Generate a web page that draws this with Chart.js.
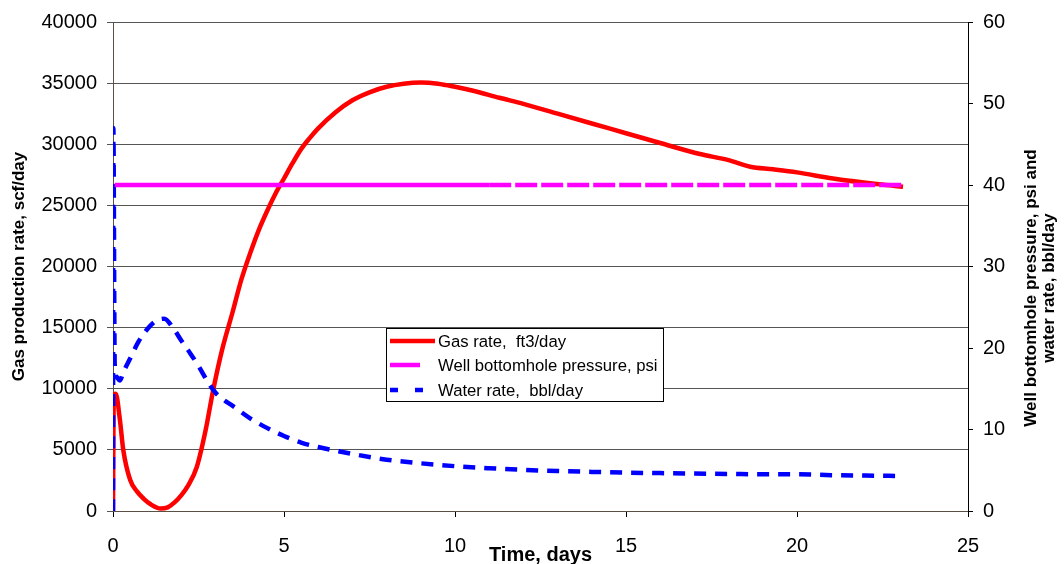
<!DOCTYPE html>
<html>
<head>
<meta charset="utf-8">
<script src="https://cdn.jsdelivr.net/npm/chart.js@4"></script>
<style>
  html, body { margin: 0; padding: 0; background: #ffffff; }
  canvas { display: block; }
</style>
</head>
<body>
<canvas id="c" width="1064" height="564"></canvas>
<script>
// ---- Data ----
const gasTime = [0, 0.02, 0.08, 0.2, 0.3, 0.5, 0.7, 0.9, 1.1, 1.4, 1.6, 1.8, 2.0, 2.2, 2.45, 2.7, 2.93, 3.2, 3.5, 3.75, 4.0, 4.25, 4.5, 4.75, 5.0, 5.25, 5.5, 5.75, 6.0, 6.5, 7.0, 7.5, 8.0, 8.5, 9.0, 9.5, 10, 10.5, 11.3, 12, 13, 14, 15, 16, 17.16, 18, 18.63, 19.3, 20, 21.05, 22.4, 23.1];
const gasRate = [0, 9500, 9600, 7500, 5000, 2550, 1600, 1000, 550, 200, 300, 700, 1300, 2100, 3600, 6500, 9900, 13300, 16300, 18900, 21000, 22900, 24500, 25950, 27200, 28450, 29600, 30500, 31300, 32600, 33600, 34250, 34700, 34950, 35050, 34950, 34700, 34400, 33800, 33300, 32500, 31700, 30900, 30100, 29200, 28700, 28160, 27950, 27700, 27200, 26720, 26530];

const pressureTime = [0.05, 1, 2, 3, 4, 5, 6, 7, 8, 9, 10, 11, 12, 13, 14, 15, 16, 17, 18, 19, 20, 21, 22, 23.1];
const pressure = [40, 40, 40, 40, 40, 40, 40, 40, 40, 40, 40, 40, 40, 40, 40, 40, 40, 40, 40, 40, 40, 40, 40, 40];

const waterTime = [0, 0.01, 0.05, 0.1, 0.2, 0.3, 0.5, 0.75, 1.0, 1.25, 1.5, 1.75, 2.0, 2.25, 2.5, 2.75, 3.0, 3.25, 3.5, 4, 4.5, 5, 5.5, 6, 7, 8, 9, 10, 11, 12, 13, 14, 15, 16, 17, 18, 19, 20, 21, 22, 23];
const waterRate = [0, 47, 18, 16.5, 16, 17, 18.7, 20.8, 22.3, 23.3, 23.6, 22.5, 20.9, 19.4, 17.8, 16.0, 14.5, 13.6, 12.9, 11.4, 10.2, 9.2, 8.4, 7.85, 7.0, 6.3, 5.85, 5.5, 5.25, 5.05, 4.9, 4.8, 4.7, 4.65, 4.6, 4.55, 4.5, 4.5, 4.4, 4.35, 4.3];

const xTicks = [0, 5, 10, 15, 20, 25];
const leftTicks = [0, 5000, 10000, 15000, 20000, 25000, 30000, 35000, 40000];
const rightTicks = [0, 10, 20, 30, 40, 50, 60];

const gasLabel = 'Gas rate,  ft3/day';
const pressureLabel = 'Well bottomhole pressure, psi';
const waterLabel = 'Water rate,  bbl/day';
const xTitle = 'Time, days';
const leftTitle = 'Gas production rate, scf/day';
const rightTitle = ['Well bottomhole pressure, psi and', 'water rate, bbl/day'];

// ---- Build ----
const pts = (xs, ys) => xs.map((x, i) => ({ x: x, y: ys[i] }));
const FONT = "'Liberation Sans', Arial, sans-serif";
const plain = v => String(v);

const legendPlugin = {
  id: 'floatLegend',
  afterDraw(chart) {
    const ctx = chart.ctx;
    ctx.save();
    const bx = 386.5, by = 328.5, bw = 277, bh = 73;
    ctx.fillStyle = '#ffffff';
    ctx.fillRect(bx, by, bw, bh);
    ctx.strokeStyle = '#000000';
    ctx.lineWidth = 1;
    ctx.strokeRect(bx, by, bw, bh);
    const ds = chart.data.datasets;
    const gas = ds[2], pr = ds[0], wa = ds[1];
    const rows = [
      { d: gas, y: 341, x0: 390, x1: 435, dash: [] },
      { d: pr, y: 365, x0: 390, x1: 420, dash: [] },
      { d: wa, y: 390, x0: 390, x1: 424, dash: [8, 17] }
    ];
    rows.forEach(r => {
      ctx.beginPath();
      ctx.setLineDash(r.dash);
      ctx.strokeStyle = r.d.borderColor;
      ctx.lineWidth = r.d.borderWidth;
      ctx.lineCap = 'butt';
      ctx.moveTo(r.x0, r.y);
      ctx.lineTo(r.x1, r.y);
      ctx.stroke();
      ctx.setLineDash([]);
      ctx.fillStyle = '#000000';
      ctx.font = '16.7px ' + FONT;
      ctx.textAlign = 'left';
      ctx.textBaseline = 'middle';
      ctx.fillText(r.d.label, 438, r.y + 1);
    });
    ctx.restore();
  }
};

const rightTitlePlugin = {
  id: 'rightTitle',
  afterDraw(chart) {
    const ctx = chart.ctx;
    ctx.save();
    ctx.translate(1031, 288);
    ctx.rotate(-Math.PI / 2);
    ctx.fillStyle = '#000000';
    ctx.font = 'bold 17px ' + FONT;
    ctx.textAlign = 'center';
    ctx.textBaseline = 'middle';
    ctx.fillText(rightTitle[0], 0, 0);
    ctx.fillText(rightTitle[1], 0, 18);
    ctx.restore();
  }
};

new Chart(document.getElementById('c'), {
  type: 'line',
  data: {
    datasets: [
      {
        label: pressureLabel,
        data: pts(pressureTime, pressure),
        yAxisID: 'y1',
        borderColor: '#ff00ff',
        borderWidth: 4.5,
        borderCapStyle: 'butt',
        pointRadius: 0,
        segment: { borderDash: c => (c.p0.parsed.x >= 10.7 ? [22, 4] : undefined) }
      },
      {
        label: waterLabel,
        data: pts(waterTime, waterRate),
        yAxisID: 'y1',
        borderColor: '#0000ff',
        borderWidth: 4.5,
        borderDash: [12, 9],
        borderCapStyle: 'butt',
        pointRadius: 0,
        cubicInterpolationMode: 'monotone'
      },
      {
        label: gasLabel,
        data: pts(gasTime, gasRate),
        yAxisID: 'y',
        borderColor: '#ff0000',
        borderWidth: 4.5,
        pointRadius: 0,
        cubicInterpolationMode: 'monotone'
      }
    ]
  },
  options: {
    responsive: false,
    animation: false,
    layout: { padding: { top: 22, left: 0, right: 0, bottom: 0 } },
    plugins: { legend: { display: false }, tooltip: { enabled: false } },
    scales: {
      x: {
        type: 'linear',
        min: 0, max: 25,
        afterBuildTicks: s => { s.ticks = xTicks.map(v => ({ value: v })); },
        ticks: { color: '#000', font: { family: FONT, size: 20 }, padding: 17, maxRotation: 0, callback: plain },
        grid: { drawOnChartArea: false, drawTicks: true, tickLength: 6, color: '#000' },
        border: { color: '#5a5046', width: 1 },
        title: { display: true, text: xTitle, color: '#000', font: { family: FONT, size: 20, weight: 'bold' }, padding: { top: 0, bottom: -3 } },
        afterFit: s => { s.height = 53; }
      },
      y: {
        position: 'left',
        min: 0, max: 40000,
        afterBuildTicks: s => { s.ticks = leftTicks.map(v => ({ value: v })); },
        ticks: { color: '#000', font: { family: FONT, size: 20 }, padding: 10, callback: plain },
        grid: { color: '#555555', tickLength: 6, lineWidth: 1 },
        border: { color: '#5a5046', width: 1 },
        title: { display: true, text: leftTitle, color: '#000', font: { family: FONT, size: 17, weight: 'bold' }, padding: { top: 9, bottom: 0 } },
        afterFit: s => { s.width = 113; }
      },
      y1: {
        position: 'right',
        min: 0, max: 60,
        afterBuildTicks: s => { s.ticks = rightTicks.map(v => ({ value: v })); },
        ticks: { color: '#000', font: { family: FONT, size: 20 }, padding: 10, callback: plain },
        grid: { drawOnChartArea: false, tickLength: 5, color: '#000' },
        border: { color: '#000', width: 1 },
        afterFit: s => { s.width = 96; }
      }
    }
  },
  plugins: [legendPlugin, rightTitlePlugin]
});
</script>
</body>
</html>
